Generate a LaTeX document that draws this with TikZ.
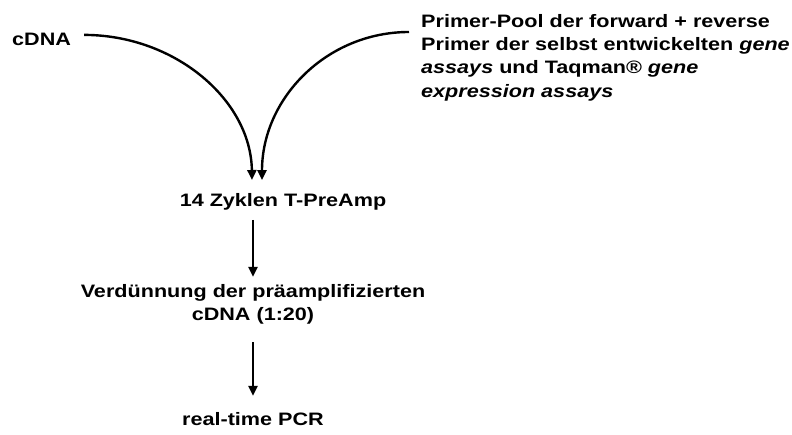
\documentclass[tikz,border=0pt]{standalone}
\usepackage{fontspec}
\setmainfont{Liberation Sans}[FakeStretch=1.2]
\usetikzlibrary{positioning, calc, arrows.meta}

\begin{document}
\begin{tikzpicture}[x=1pt, y=-1pt, font=\fontsize{18}{23.3}\selectfont\bfseries,
	txt/.style={inner sep=0pt, align=center},
	flow/.style={line width=2.4pt, -{Triangle[width=9pt,length=10pt]}}]
	\useasboundingbox (0,0) rectangle (792,434);
	\node [txt,anchor=base west] (cdna) at (12,45) {cDNA};
	\node [txt,anchor=north west,align=left] (pool) at (421,14) {Primer-Pool der forward + reverse\\Primer der selbst entwickelten \textit{gene}\\\textit{assays} und Taqman® \textit{gene}\\\textit{expression assays}};
	\node [txt,anchor=base] (zyk) at (283,206) {14 Zyklen T-PreAmp};
	\node [txt] (verd) at (253,304) {Verdünnung der präamplifizierten\\cDNA (1:20)};
	\node [txt,anchor=base] (pcr) at (253,425) {real-time PCR};
	\coordinate (poolout) at (409,32);
	\coordinate (inl) at (252,180);
	\coordinate (inr) at (262,180);
	% the two inputs meet above the pre-amplification
	\draw [flow] ([xshift=13pt,yshift=4pt]cdna.east) .. controls (175,35) and (251,100) .. (inl);
	\draw [flow] (poolout) .. controls (327,32) and (262,98) .. (inr);
	% straight steps down
	\draw [flow] ([yshift=-10pt]zyk.south -| verd.north) -- ([yshift=7pt]verd.north);
	\draw [flow, shorten <=18pt, shorten >=16pt] (verd.south) -- (pcr.north);
\end{tikzpicture}
\end{document}
